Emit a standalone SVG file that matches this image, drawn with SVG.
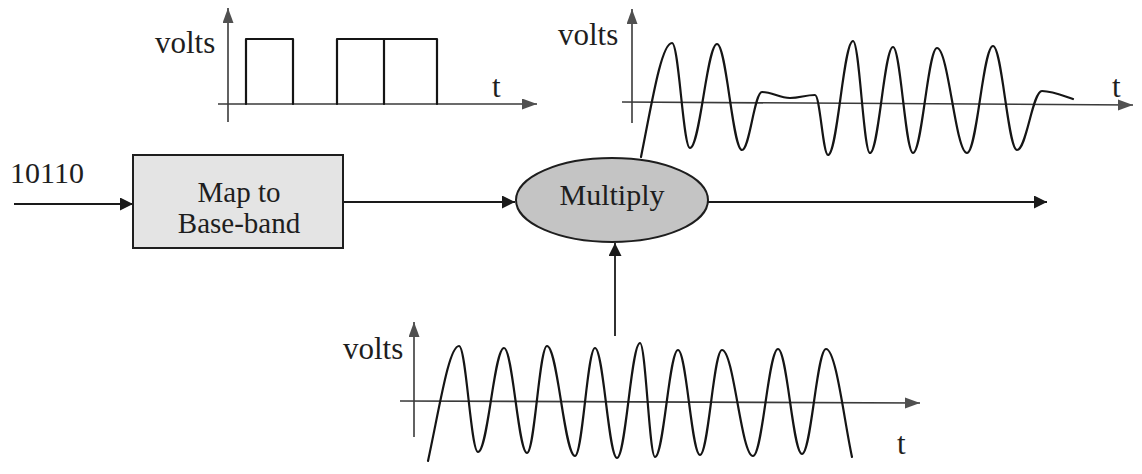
<svg xmlns="http://www.w3.org/2000/svg" width="1142" height="474" viewBox="0 0 1142 474">
<defs>
<style>
.txt{font-family:'Liberation Serif','Times New Roman',serif;fill:#1e1e1e}
.lbl{font-size:30px}
.box{font-size:29px}
.ax{font-size:31px}
.axis{stroke:#3a3a3a;stroke-width:1.6;fill:none}
.wave{stroke:#151515;stroke-width:2.2;fill:none;stroke-linejoin:round;stroke-linecap:round}
.conn{stroke:#1a1a1a;stroke-width:1.8;fill:none}
</style>
<marker id="arr" markerUnits="userSpaceOnUse" markerWidth="14" markerHeight="14" refX="13" refY="6.5" orient="auto">
<path d="M0,0 L13,6.5 L0,13 Z" fill="#1a1a1a"/>
</marker>
<marker id="axarr" markerUnits="userSpaceOnUse" markerWidth="16" markerHeight="12" refX="15" refY="5.5" orient="auto">
<path d="M0,0 L15,5.5 L0,11 Z" fill="#505050"/>
</marker>
</defs>
<rect width="1142" height="474" fill="#ffffff"/>

<g id="connectors">
<line class="conn" x1="14" y1="204" x2="133" y2="204" marker-end="url(#arr)"/>
<line class="conn" x1="343" y1="202" x2="515" y2="202" marker-end="url(#arr)"/>
<line class="conn" x1="708" y1="202" x2="1047" y2="202" marker-end="url(#arr)"/>
<line class="conn" x1="615" y1="336" x2="615" y2="243" marker-end="url(#arr)"/>
</g>

<g id="input-label">
<text class="txt lbl" x="10" y="183">10110</text>
</g>

<g id="map-box">
<rect x="133" y="155" width="210" height="93" fill="#e4e4e4" stroke="#1e1e1e" stroke-width="2"/>
<text class="txt box" x="239" y="202" text-anchor="middle">Map to</text>
<text class="txt box" x="239" y="233" text-anchor="middle">Base-band</text>
</g>

<g id="multiply">
<ellipse cx="612" cy="200" rx="96" ry="42" fill="#c4c4c4" stroke="#1e1e1e" stroke-width="2"/>
<text class="txt lbl" x="612" y="205" text-anchor="middle">Multiply</text>
</g>

<g id="baseband-plot">
<line class="axis" x1="228" y1="122" x2="228" y2="8" marker-end="url(#axarr)"/>
<line class="axis" x1="218" y1="104" x2="537" y2="104" marker-end="url(#axarr)"/>
<path class="wave" stroke-width="2" stroke-linecap="butt" d="M246,104 V39 H293 V104 M337,104 V39 H437 V104 M384,39 V104"/>
<text class="txt ax" x="155" y="53">volts</text>
<text class="txt ax" x="492" y="97">t</text>
</g>

<g id="modulated-plot">
<line class="axis" x1="632" y1="123" x2="632" y2="9" marker-end="url(#axarr)"/>
<line class="axis" x1="622" y1="102" x2="1133" y2="105" marker-end="url(#axarr)"/>
<path class="wave" d="M641,157 C651,108 661,43 672,43 C679,43 683,148 690,148 C700,148 707,44 717,44 C726.5,44 732.5,150 742,150 C749.6,150 754.4,92 762,92 C773,92 779,98 790,98 C800,98 805,95 815,95 C820,95 823,155 828,155 C837.5,155 843.5,41 853,41 C859.5,41 863.5,153 870,153 C878.7,153 884.3,47 893,47 C900.6,47 905.4,153 913,153 C922,153 928,48 937,48 C948.4,48 955.6,153 967,153 C977,153 983,46 993,46 C1002,46 1008,150 1017,150 C1026.5,150 1032.5,91 1042,91 C1052,91 1064,96 1073,99"/>
<text class="txt ax" x="558" y="45">volts</text>
<text class="txt ax" x="1112" y="97">t</text>
</g>

<g id="carrier-plot">
<line class="axis" x1="414" y1="437" x2="414" y2="322" marker-end="url(#axarr)"/>
<line class="axis" x1="400" y1="401" x2="920" y2="403" marker-end="url(#axarr)"/>
<path class="wave" d="M428,461 C440,405 449,346 459,346 C466.2,346 470.8,452 478,452 C487.9,452 494.1,348 504,348 C512.7,348 518.3,453 527,453 C534.6,453 539.4,346 547,346 C557.6,346 564.4,456 575,456 C582.6,456 587.4,348 595,348 C603.4,348 608.6,458 617,458 C625.7,458 631.3,343 640,343 C645.7,343 649.3,457 655,457 C663.7,457 669.3,350 678,350 C686.4,350 691.6,455 700,455 C708.4,455 713.6,350 722,350 C733.8,350 741.2,456 753,456 C762.5,456 768.5,349 778,349 C787.1,349 792.9,454 802,454 C811.1,454 816.9,349 826,349 C836,349 844,420 852,457"/>
<text class="txt ax" x="343" y="359">volts</text>
<text class="txt ax" x="897" y="454">t</text>
</g>
</svg>
